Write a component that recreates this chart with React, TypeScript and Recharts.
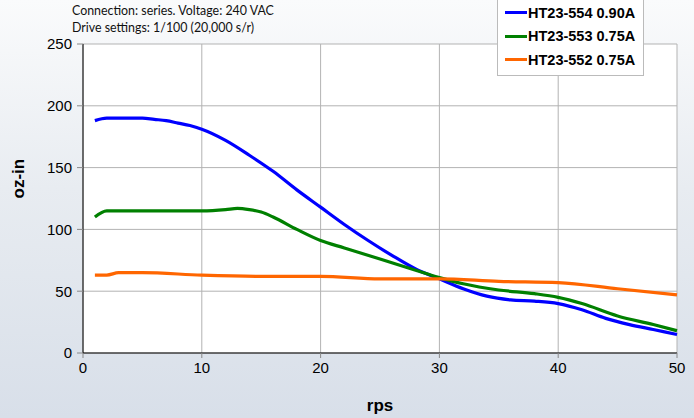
import { CartesianGrid, Line, LineChart, XAxis, YAxis } from "recharts"

const rps554 = [1, 2, 3, 4, 5, 6, 7, 8, 9, 10, 12, 14, 16, 18, 20, 22, 24, 26, 28, 30, 32, 34, 36, 38, 40, 42, 44, 46, 48, 50]
const ht554 = [188, 190, 190, 190, 190, 189, 188, 186, 184, 181, 172, 160, 147, 132, 118, 104, 91, 79, 68, 60, 52, 46, 43, 42, 40, 35, 28, 23, 19, 15]

const rps553 = [1, 2, 3, 5, 8, 10, 12, 13, 14, 15, 16, 18, 20, 22, 25, 28, 30, 32, 35, 38, 40, 42, 45, 48, 50]
const ht553 = [110, 115, 115, 115, 115, 115, 116, 117, 116, 114, 110, 100, 91, 85, 76, 67, 61, 56, 51, 48, 45, 40, 30, 23, 18]

const rps552 = [1, 2, 3, 5, 10, 15, 20, 25, 30, 35, 40, 45, 50]
const ht552 = [63, 63, 65, 65, 63, 62, 62, 60, 60, 58, 57, 52, 47]

const xTicks = [0, 10, 20, 30, 40, 50]
const yTicks = [0, 50, 100, 150, 200, 250]

const series = [
  { name: "HT23-554 0.90A", color: "#0000ff", data: rps554.map((x, i) => ({ x, y: ht554[i] })) },
  { name: "HT23-553 0.75A", color: "#008000", data: rps553.map((x, i) => ({ x, y: ht553[i] })) },
  { name: "HT23-552 0.75A", color: "#ff6600", data: rps552.map((x, i) => ({ x, y: ht552[i] })) },
]

const font = "'Liberation Sans', Arial, sans-serif"

function LegendBox() {
  return (
    <div
      style={{
        position: "absolute",
        left: 497,
        top: -4,
        width: 147,
        boxSizing: "border-box",
        background: "#fff",
        border: "1px solid #bbb",
        padding: "4px 2px 3px 7px",
        fontFamily: font,
        fontWeight: "bold",
        fontSize: 14.5,
        color: "#000",
        whiteSpace: "nowrap",
      }}
    >
      {series.map((s) => (
        <div key={s.name} style={{ display: "flex", alignItems: "center", height: 23.5 }}>
          <span style={{ display: "inline-block", width: 22, height: 3, background: s.color, marginRight: 1 }} />
          {s.name}
        </div>
      ))}
    </div>
  )
}

export default function App() {
  return (
    <div
      style={{
        position: "fixed",
        left: 0,
        top: 0,
        width: 694,
        height: 418,
        background: "linear-gradient(to bottom, #fafbfc 0%, #e8ecf1 45%, #d8dfe9 100%)",
      }}
    >
      <div
        style={{
          position: "absolute",
          left: 72,
          top: 2,
          fontFamily: "Lato, 'Open Sans', sans-serif",
          fontSize: 12.4,
          lineHeight: "17px",
          color: "#111",
        }}
      >
        <div>Connection: series. Voltage: 240 VAC</div>
        <div>Drive settings: 1/100 (20,000 s/r)</div>
      </div>
      <LineChart width={694} height={418} margin={{ top: 44, right: 17, bottom: 0, left: 0 }}>
        <CartesianGrid stroke="#b3b3b3" fill="#fff" strokeWidth={1} />
        <XAxis
          dataKey="x"
          type="number"
          domain={[0, 50]}
          ticks={xTicks}
          height={65}
          stroke="#000"
          tick={{ fill: "#000", fontSize: 15, fontFamily: font }}
          tickSize={5}
          tickLine={{ stroke: "#888" }}
          tickMargin={4}
          allowDuplicatedCategory={false}
          label={{ value: "rps", position: "insideBottom", offset: 7, fill: "#000", fontSize: 17, fontWeight: "bold", fontFamily: font }}
        />
        <YAxis
          type="number"
          domain={[0, 250]}
          ticks={yTicks}
          width={83}
          stroke="#000"
          tick={{ fill: "#000", fontSize: 15, fontFamily: font }}
          tickSize={6}
          tickLine={{ stroke: "#888" }}
          tickMargin={5}
          label={{ value: "oz-in", angle: -90, position: "insideLeft", offset: 18, fill: "#000", fontSize: 17, fontWeight: "bold", fontFamily: font }}
        />
        {series.map((s) => (
          <Line
            key={s.name}
            data={s.data}
            dataKey="y"
            name={s.name}
            type="monotone"
            stroke={s.color}
            strokeWidth={3.2}
            dot={false}
            activeDot={false}
            isAnimationActive={false}
          />
        ))}
      </LineChart>
      <LegendBox />
    </div>
  )
}
